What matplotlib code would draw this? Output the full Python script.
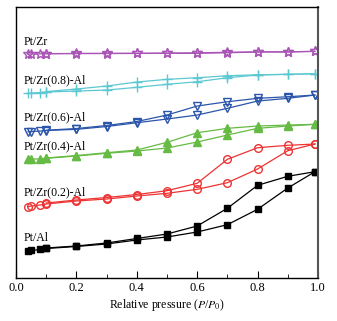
import numpy as np
import matplotlib
matplotlib.use('Agg')
from matplotlib import pyplot as plt

plt.rcParams['font.family'] = ['Liberation Serif', 'DejaVu Serif']
plt.rcParams['mathtext.fontset'] = 'stix'

# Presiones relativas (adsorcion y desorcion)
p_ads = [0.04, 0.05, 0.08, 0.1, 0.2, 0.3, 0.4, 0.5, 0.6, 0.7, 0.8, 0.9, 0.99]
p_des = [0.99, 0.9, 0.8, 0.7, 0.6, 0.5, 0.4, 0.3, 0.2, 0.1]

# Cantidad adsorbida (unidades arbitrarias, curvas desplazadas)
al_ads = [27, 27.5, 28.5, 29.5, 31.5, 34, 38, 41, 46, 53.3, 68.7, 90, 106.3]
al_des = [106.3, 101.7, 92.7, 69.7, 52, 44, 39.5, 35, 32, 30]

zr02_ads = [71.3, 72, 73, 74, 77, 79, 82, 84.7, 88.7, 95.3, 109, 127.3, 134]
zr02_des = [134, 132.7, 130.3, 118.7, 94.7, 87.3, 83.5, 80.5, 78, 75]

zr04_ads = [118.7, 118.7, 119.3, 119.7, 122, 124.7, 127, 130, 136, 143, 149.7, 152, 153.7]
zr04_des = [153.7, 153, 152, 149.7, 145.3, 135.7, 128, 125.3, 122.5, 120]

zr06_ads = [146.3, 146.5, 147, 147.5, 148.7, 151.5, 155.3, 159, 163, 169.7, 177, 179.7, 183]
zr06_des = [183, 181.3, 179.7, 176.3, 172, 163, 156.5, 152.5, 149.5, 147.8]

zr08_ads = [184.7, 185, 185.5, 186, 187, 188, 190.7, 193.7, 196.3, 200.3, 203, 203.7, 204.3]
zr08_des = [204.3, 203.7, 203.3, 202.3, 200.3, 198.7, 196, 192, 189, 186.5]

zr_ads = [224, 224, 224.2, 224.3, 224.5, 224.5, 224.6, 224.7, 224.7, 225.3, 226, 226, 226.7]
zr_des = [226.7, 226.3, 226.2, 225.8, 225.2, 225, 224.8, 224.7, 224.6, 224.4]

labels = ['Pt/Al', 'Pt/Zr(0.2)-Al', 'Pt/Zr(0.4)-Al', 'Pt/Zr(0.6)-Al', 'Pt/Zr(0.8)-Al', 'Pt/Zr']
label_y = [40, 86, 132, 161, 198, 236]

series = [
    (al_ads, al_des, 'black', 's', 'black', 5),
    (zr02_ads, zr02_des, '#ee3333', 'o', 'none', 5.5),
    (zr04_ads, zr04_des, '#66bb44', '^', '#66bb44', 5.5),
    (zr06_ads, zr06_des, '#2a55aa', 'v', 'none', 5.5),
    (zr08_ads, zr08_des, '#5cc8d2', '+', 'none', 6.5),
    (zr_ads, zr_des, '#a855b5', '*', 'none', 7.5),
]

fig = plt.figure(figsize=(3.37, 3.21), dpi=100)
ax = fig.add_axes([0.0475, 0.134, 0.896, 0.844])

for (ya, yd, c, m, fc, ms) in series:
    ax.plot(p_ads, ya, color=c, lw=0.9, marker=m, ms=ms, mfc=fc, mec=c, mew=1.0)
    ax.plot(p_des, yd, color=c, lw=0.9, marker=m, ms=ms, mfc=fc, mec=c, mew=1.0)

for lab, yy in zip(labels, label_y):
    ax.text(0.025, yy, lab, fontsize=8.5, ha='left', va='center')

ax.set_xlim(0, 1.0)
ax.set_ylim(0, 271)
ax.set_xticks(np.arange(0, 1.01, 0.2))
ax.set_xticks(np.arange(0.1, 1.0, 0.2), minor=True)
ax.set_yticks([])
ax.tick_params(axis='x', which='major', direction='in', length=5, labelsize=9, pad=3)
ax.tick_params(axis='x', which='minor', direction='in', length=3)
for s in ax.spines.values():
    s.set_linewidth(1.0)
ax.spines['right'].set_color('#555555')
ax.spines['right'].set_linewidth(1.5)
ax.set_xlabel('Relative pressure ($P$/$P_0$)', fontsize=8.5, labelpad=2)

fig.savefig('out.png', dpi=100)
